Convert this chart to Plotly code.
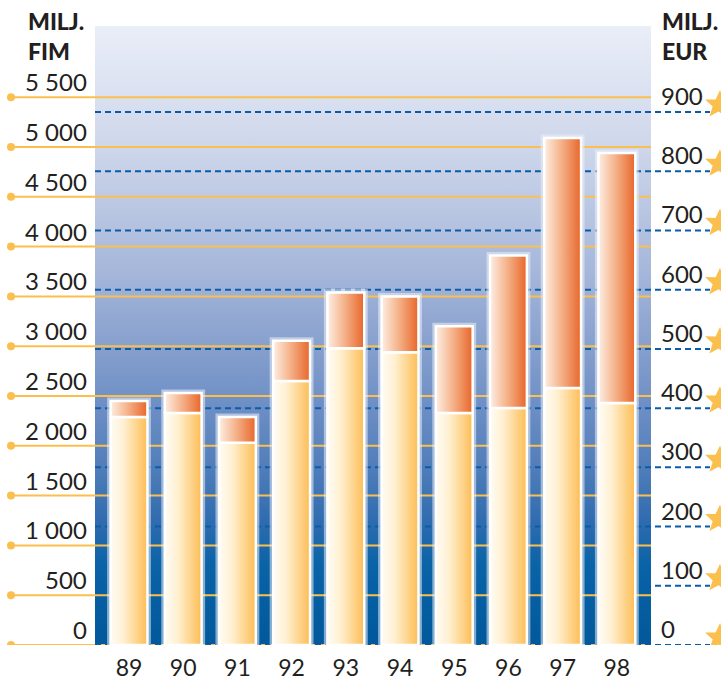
import base64, math
import plotly.graph_objects as go

# ---- data ----
years = ["89", "90", "91", "92", "93", "94", "95", "96", "97", "98"]
lower_fim = [2290, 2330, 2030, 2650, 2980, 2940, 2330, 2380, 2580, 2430]
total_fim = [2450, 2530, 2290, 3055, 3540, 3500, 3200, 3910, 5090, 4940]
fim_ticks = [0, 500, 1000, 1500, 2000, 2500, 3000, 3500, 4000, 4500, 5000, 5500]
fim_labels = ["0", "500", "1 000", "1 500", "2 000", "2 500", "3 000", "3 500",
              "4 000", "4 500", "5 000", "5 500"]
eur_ticks = [0, 100, 200, 300, 400, 500, 600, 700, 800, 900]
eur_labels = ["0", "100", "200", "300", "400", "500", "600", "700", "800", "900"]
FIM_PER_EUR = 5.94573

# ---- geometry / style ----
W, H = 721, 680
ML, MR, MT, MB = 95, 70, 26, 35
PW = W - ML - MR
PH = H - MT - MB
YMAX = 6215
XR = [-0.627, 9.63]
BW = 0.68
TXT = "#231f20"
ORANGE_LINE = "#fbbf4e"
BLUE_DASH = "#0a5ca8"
FONT = "Lato"

def px2paper(px):
    return (px - ML) / PW

def py2paper(py):
    return 1 - (py - MT) / PH

fig = go.Figure()

for i in range(len(years)):
    x0, x1 = i - BW / 2, i + BW / 2
    fig.add_trace(go.Scatter(
        x=[x0, x1, x1, x0, x0], y=[0, 0, total_fim[i], total_fim[i], 0],
        mode="lines", line=dict(color="rgba(235,240,250,0.55)", width=7),
        hoverinfo="skip", showlegend=False))
    segs = [
        (0, lower_fim[i], [[0, "#fffcf5"], [0.35, "#fff0d2"], [1, "#fdbd55"]]),
        (lower_fim[i], total_fim[i], [[0, "#fdeee4"], [0.45, "#f5b48c"], [1, "#e8662a"]]),
    ]
    for y0, y1, cs in segs:
        fig.add_trace(go.Scatter(
            x=[x0, x1, x1, x0, x0], y=[y0, y0, y1, y1, y0],
            mode="lines", fill="toself",
            fillgradient=dict(type="horizontal", colorscale=cs),
            line=dict(color="white", width=2.5),
            hoverinfo="skip", showlegend=False))

shapes = []
annotations = []

for v, lab in zip(fim_ticks, fim_labels):
    shapes.append(dict(type="line", xref="paper", yref="y",
                       x0=px2paper(11), x1=1.0, y0=v, y1=v,
                       line=dict(color=ORANGE_LINE, width=2), layer="below"))
    shapes.append(dict(type="circle", xref="paper", yref="y",
                       xsizemode="pixel", ysizemode="pixel",
                       xanchor=px2paper(11), yanchor=v,
                       x0=-4, x1=4, y0=-4, y1=4,
                       fillcolor=ORANGE_LINE, line=dict(width=0), layer="below"))
    annotations.append(dict(xref="paper", yref="y", x=px2paper(89), y=v,
                            xanchor="right", yanchor="bottom", yshift=-1,
                            text=lab, showarrow=False,
                            font=dict(family=FONT, size=24, color=TXT)))

def star_path(cx, cy, ro, ri, rot):
    pts = []
    for k in range(10):
        ang = math.pi / 2 + rot + k * math.pi / 5
        r = ro if k % 2 == 0 else ri
        pts.append((cx + r * math.cos(ang), cy + r * math.sin(ang)))
    return "M " + " L ".join(f"{x:.2f},{y:.2f}" for x, y in pts) + " Z"

for v, lab in zip(eur_ticks, eur_labels):
    shapes.append(dict(type="line", xref="paper", yref="y2",
                       x0=0, x1=px2paper(710), y0=v, y1=v,
                       line=dict(color=BLUE_DASH, width=2, dash="6px,4px"),
                       layer="below"))
    shapes.append(dict(type="path", xref="paper", yref="y2",
                       xsizemode="pixel", ysizemode="pixel",
                       xanchor=px2paper(719), yanchor=v,
                       path=star_path(0, 7, 15, 6.5, -0.07),
                       fillcolor="#fbbf4e", line=dict(width=0), layer="above"))
    annotations.append(dict(xref="paper", yref="y2", x=px2paper(659), y=v,
                            xanchor="left", yanchor="bottom", yshift=0,
                            text=lab, showarrow=False,
                            font=dict(family=FONT, size=24, color=TXT)))

for xpx, txt in [(26, "MILJ.<br>FIM"), (660, "MILJ.<br>EUR")]:
    annotations.append(dict(xref="paper", yref="paper", x=px2paper(xpx), y=py2paper(5),
                            xanchor="left", yanchor="top", align="left",
                            text=txt, showarrow=False,
                            font=dict(family=FONT, size=23, color=TXT, weight=900)))

svg = ("<svg xmlns='http://www.w3.org/2000/svg' width='10' height='100' preserveAspectRatio='none'>"
       "<defs><linearGradient id='g' x1='0' y1='0' x2='0' y2='1'>"
       "<stop offset='0' stop-color='#eaeef8'/>"
       "<stop offset='0.2' stop-color='#cdd6ea'/>"
       "<stop offset='0.4' stop-color='#a5b6da'/>"
       "<stop offset='0.5' stop-color='#8ba3cf'/>"
       "<stop offset='0.6' stop-color='#7191c6'/>"
       "<stop offset='0.7' stop-color='#5580bb'/>"
       "<stop offset='0.8' stop-color='#2f6caf'/>"
       "<stop offset='0.87' stop-color='#0a63a6'/>"
       "<stop offset='1' stop-color='#01599c'/>"
       "</linearGradient></defs><rect width='10' height='100' fill='url(#g)'/></svg>")
src = "data:image/svg+xml;base64," + base64.b64encode(svg.encode()).decode()

fig.update_layout(
    width=W, height=H,
    margin=dict(l=ML, r=MR, t=MT, b=MB, pad=0, autoexpand=False),
    paper_bgcolor="white", plot_bgcolor="rgba(0,0,0,0)",
    showlegend=False,
    images=[dict(source=src, xref="paper", yref="paper", x=0, y=1,
                 sizex=1, sizey=1, xanchor="left", yanchor="top",
                 sizing="stretch", layer="below")],
    shapes=shapes, annotations=annotations,
    xaxis=dict(range=XR, tickmode="array", tickvals=list(range(len(years))),
               ticktext=years, showgrid=False, zeroline=False, showline=False,
               ticks="", ticklabelstandoff=7,
               tickfont=dict(family=FONT, size=23, color=TXT), fixedrange=True),
    yaxis=dict(range=[0, YMAX], showgrid=False, zeroline=False, showticklabels=False,
               fixedrange=True),
    yaxis2=dict(range=[0, YMAX / FIM_PER_EUR], overlaying="y", side="right",
                showgrid=False, zeroline=False, showticklabels=False, fixedrange=True),
)

fig.write_html("out.html", config={"displayModeBar": False},
               post_script="document.body.style.margin='0';")
